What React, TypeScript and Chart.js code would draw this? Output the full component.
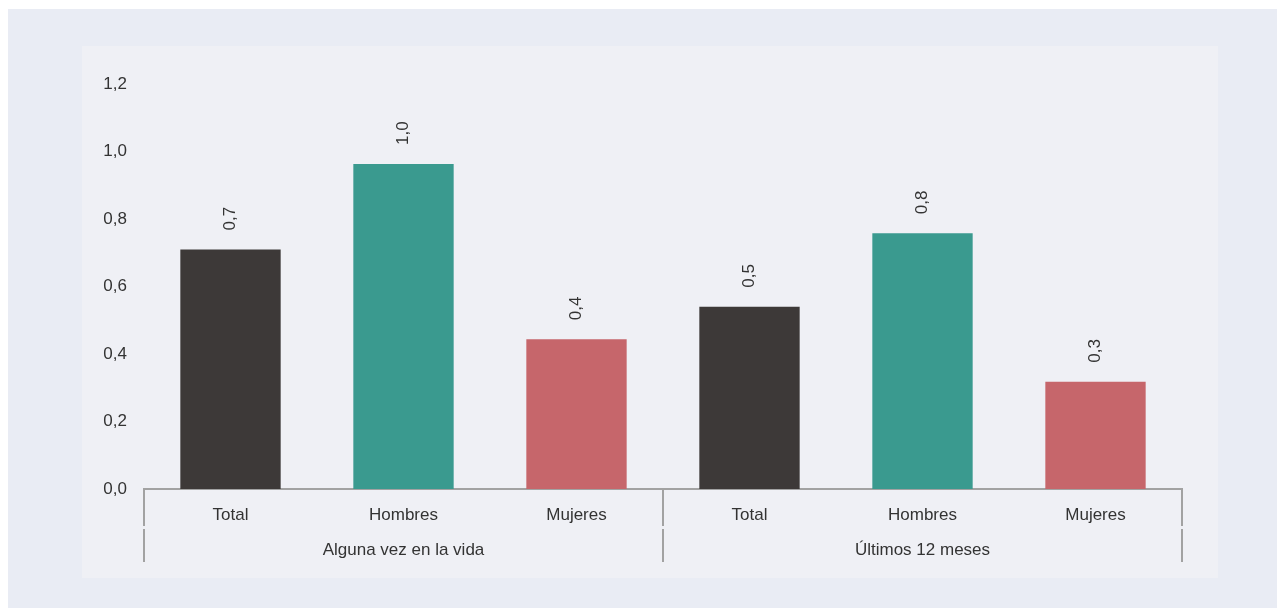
import { useEffect, useRef } from 'react';
import { Chart, registerables } from 'chart.js';

Chart.register(...registerables);

const categories = ['Total', 'Hombres', 'Mujeres', 'Total', 'Hombres', 'Mujeres'];
const groups = ['Alguna vez en la vida', 'Últimos 12 meses'];
const groupSizes = [3, 3];
const values = [0.71, 0.963, 0.444, 0.54, 0.758, 0.318];
const valueLabels = ['0,7', '1,0', '0,4', '0,5', '0,8', '0,3'];
const yMin = 0;
const yMax = 1.2;
const yStep = 0.2;

const FONT = '"Liberation Sans", Arial, Helvetica, sans-serif';
const TEXT = '#333333';
const AXIS = '#a2a2a2';
const barColors = ['#3d3938', '#3a9a8f', '#c6666b', '#3d3938', '#3a9a8f', '#c6666b'];

const decorPlugin = {
  id: 'decor',
  afterDatasetsDraw(chart: any) {
    const ctx = chart.ctx;
    const x = chart.scales.x;
    const meta = chart.getDatasetMeta(0);
    ctx.save();
    // value labels, rotated
    ctx.fillStyle = TEXT;
    ctx.font = `17px ${FONT}`;
    meta.data.forEach((el: any, i: number) => {
      ctx.save();
      ctx.translate(el.x, el.y - 19);
      ctx.rotate(-Math.PI / 2);
      ctx.textAlign = 'left';
      ctx.textBaseline = 'middle';
      ctx.fillText(valueLabels[i], 0, 0);
      ctx.restore();
    });
    // group separators and labels
    const axisY = x.top;
    const bounds: number[] = [x.left];
    let idx = 0;
    groupSizes.forEach((n, gi) => {
      idx += n;
      if (gi < groupSizes.length - 1) {
        bounds.push((x.getPixelForValue(idx - 1) + x.getPixelForValue(idx)) / 2);
      }
    });
    bounds.push(x.right);
    ctx.strokeStyle = AXIS;
    ctx.lineWidth = 2;
    bounds.forEach((bx) => {
      ctx.beginPath();
      ctx.moveTo(bx, axisY);
      ctx.lineTo(bx, axisY + 37);
      ctx.moveTo(bx, axisY + 40);
      ctx.lineTo(bx, axisY + 73);
      ctx.stroke();
    });
    ctx.textAlign = 'center';
    ctx.textBaseline = 'middle';
    groups.forEach((g, gi) => {
      ctx.fillText(g, (bounds[gi] + bounds[gi + 1]) / 2, axisY + 61);
    });
    ctx.restore();
  },
};

export default function App() {
  const ref = useRef<HTMLCanvasElement>(null);
  useEffect(() => {
    Chart.defaults.font.family = FONT;
    const chart = new Chart(ref.current as HTMLCanvasElement, {
      type: 'bar',
      data: {
        labels: categories,
        datasets: [
          {
            data: values,
            backgroundColor: barColors,
            borderWidth: 0,
            categoryPercentage: 1,
            barPercentage: 0.58,
          },
        ],
      },
      options: {
        responsive: false,
        animation: false,
        devicePixelRatio: 1,
        layout: { padding: { top: 38, right: 36, left: 0, bottom: 0 } },
        plugins: { legend: { display: false }, tooltip: { enabled: false } },
        scales: {
          y: {
            min: yMin,
            max: yMax,
            ticks: {
              stepSize: yStep,
              color: TEXT,
              font: { size: 17, family: FONT },
              padding: 17,
              callback: (v: any) => Number(v).toFixed(1).replace('.', ','),
            },
            grid: { display: false, drawTicks: false },
            border: { display: false },
            afterFit: (s: any) => {
              s.width = 62;
            },
          },
          x: {
            ticks: {
              color: TEXT,
              font: { size: 17, family: FONT },
              padding: 16,
              maxRotation: 0,
            },
            grid: { display: false, drawTicks: false },
            border: { display: true, color: AXIS, width: 2 },
            afterFit: (s: any) => {
              s.height = 89;
            },
          },
        },
      },
      plugins: [decorPlugin],
    });
    return () => chart.destroy();
  }, []);
  return (
    <div
      style={{
        width: 1278,
        height: 599,
        marginLeft: -1,
        marginTop: 1,
        background: '#e9ecf4',
        position: 'relative',
      }}
    >
      <div
        style={{
          position: 'absolute',
          left: 75,
          top: 37,
          width: 1136,
          height: 532,
          background: '#eff0f5',
        }}
      >
        <canvas ref={ref} width={1136} height={532} style={{ display: 'block' }} />
      </div>
    </div>
  );
}
